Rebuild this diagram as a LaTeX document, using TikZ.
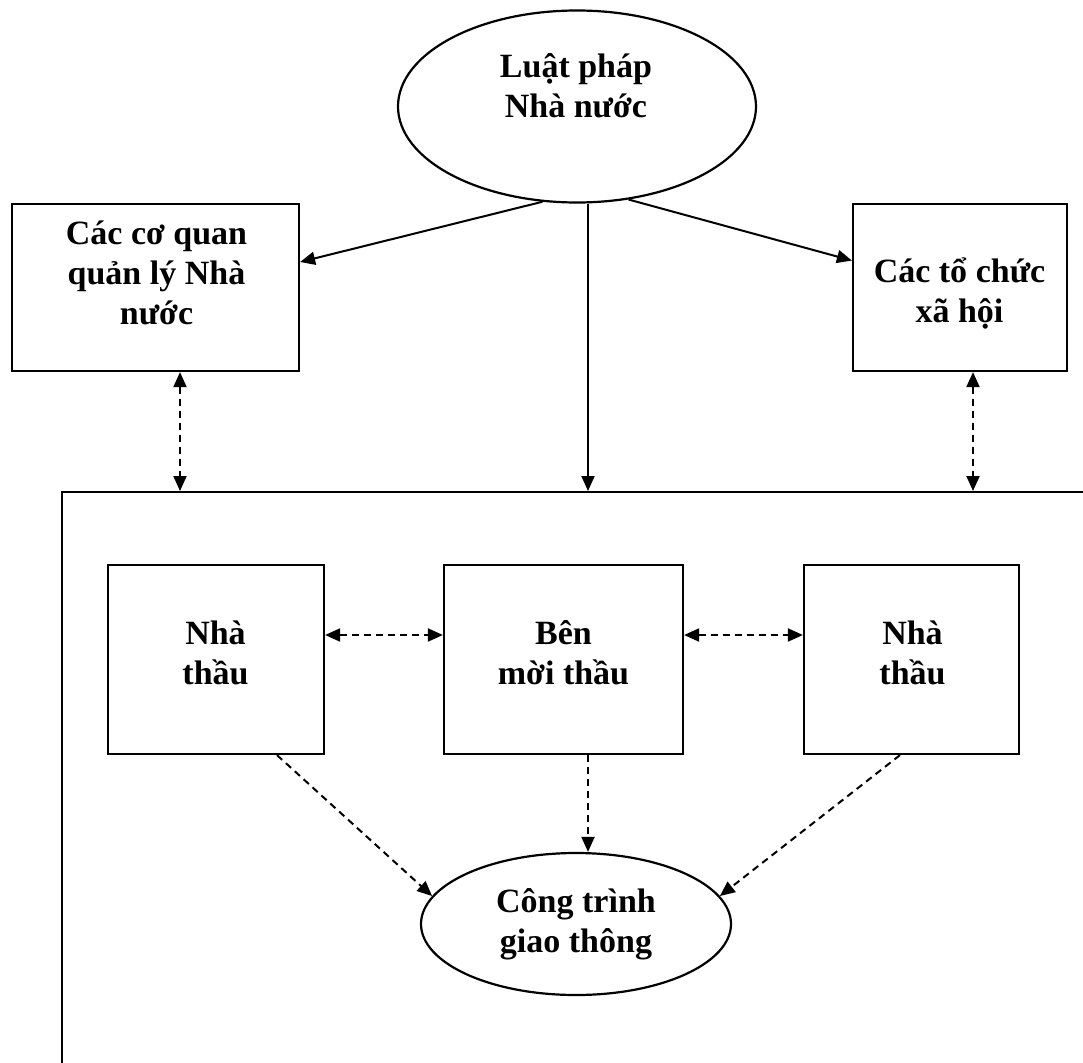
\documentclass[tikz,border=0pt]{standalone}
\usepackage{fontspec}
\setmainfont{Liberation Serif}
\usetikzlibrary{arrows.meta, shapes.geometric, positioning}
\tikzstyle{hop} = [draw, rectangle, line width=2.2pt, inner sep=0pt]
\tikzstyle{elip} = [draw, ellipse, line width=2.2pt, inner sep=0pt]
\tikzstyle{khung} = [draw, rectangle, line width=2.2pt, inner sep=0pt, anchor=north west]
\tikzstyle{chu} = [font=\fontsize{34}{40}\selectfont\bfseries, align=center, inner sep=0pt]
\tikzstyle{muiten} = [line width=2pt, -{Triangle[length=15pt,width=13pt]}]
\tikzstyle{muitenmot} = [line width=2pt, dash pattern=on 7pt off 5pt, -{Triangle[length=15pt,width=13pt]}]
\tikzstyle{muitenhai} = [line width=2pt, dash pattern=on 7pt off 5pt, {Triangle[length=15pt,width=13pt]}-{Triangle[length=15pt,width=13pt]}]

\begin{document}
\begin{tikzpicture}[x=1pt, y=-1pt]
	\useasboundingbox (0,0) rectangle (1083,1062);
	\clip (0,0) rectangle (1083,1062);
	% cac khoi phia tren
	\node [elip, minimum width=358pt, minimum height=192pt] (luat) at (577,106.5) {};
	\node [chu] (luatchu) at (576,86) {Luật pháp\\Nhà nước};
	\node [hop, minimum width=287pt, minimum height=167pt] (coquan) at (155.5,287.5) {};
	\node [chu] (coquanchu) at (156.5,273) {Các cơ quan\\quản lý Nhà\\nước};
	\node [hop, minimum width=214pt, minimum height=167pt] (xahoi) at (960,287.5) {};
	\node [chu] (xahoichu) at (959.5,293.5) {Các tổ chức\\xã hội};
	% khung lon
	\node [khung, minimum width=1100pt, minimum height=640pt] (khung) at (61,491) {};
	% cac khoi ben trong
	\node [hop, minimum width=216pt, minimum height=189pt] (nt1) at (216,659.5) {};
	\node [chu] (nt1chu) at (215.5,653) {Nhà\\thầu};
	\node [hop, minimum width=239pt, minimum height=189pt] (bmt) at (563.5,659.5) {};
	\node [chu] (bmtchu) at (563.5,653) {Bên\\mời thầu};
	\node [hop, minimum width=215pt, minimum height=189pt] (nt2) at (911.5,659.5) {};
	\node [chu] (nt2chu) at (912.5,653) {Nhà\\thầu};
	\node [elip, minimum width=310pt, minimum height=142pt] (ct) at (576,924) {};
	\node [chu] (ctchu) at (576,924) {Công trình\\giao thông};
	% mui ten
	\coordinate (giua) at ([xshift=11pt]luat.south);
	\draw [muiten] (luat.250) -- (coquan.10.8);
	\draw [muiten] (luat.299) -- (xahoi.166);
	\draw [muiten] (giua) -- (giua |- khung.north);
	\draw [muitenhai] ([xshift=24.5pt]coquan.south) -- ([xshift=24.5pt]coquan.south |- khung.north);
	\draw [muitenhai] ([xshift=13pt]xahoi.south) -- ([xshift=13pt]xahoi.south |- khung.north);
	\draw [muitenhai] ([yshift=24.5pt]nt1.east) -- ([yshift=24.5pt]bmt.west);
	\draw [muitenhai] ([yshift=24.5pt]bmt.east) -- ([yshift=24.5pt]nt2.west);
	\draw [muitenmot] ([xshift=61pt]nt1.south) -- (ct.169.5);
	\draw [muitenmot] ([xshift=24.5pt]bmt.south) -- ([xshift=24.5pt]bmt.south |- ct.north);
	\draw [muitenmot] ([xshift=-11.5pt]nt2.south) -- (ct.11.4);
\end{tikzpicture}
\end{document}
